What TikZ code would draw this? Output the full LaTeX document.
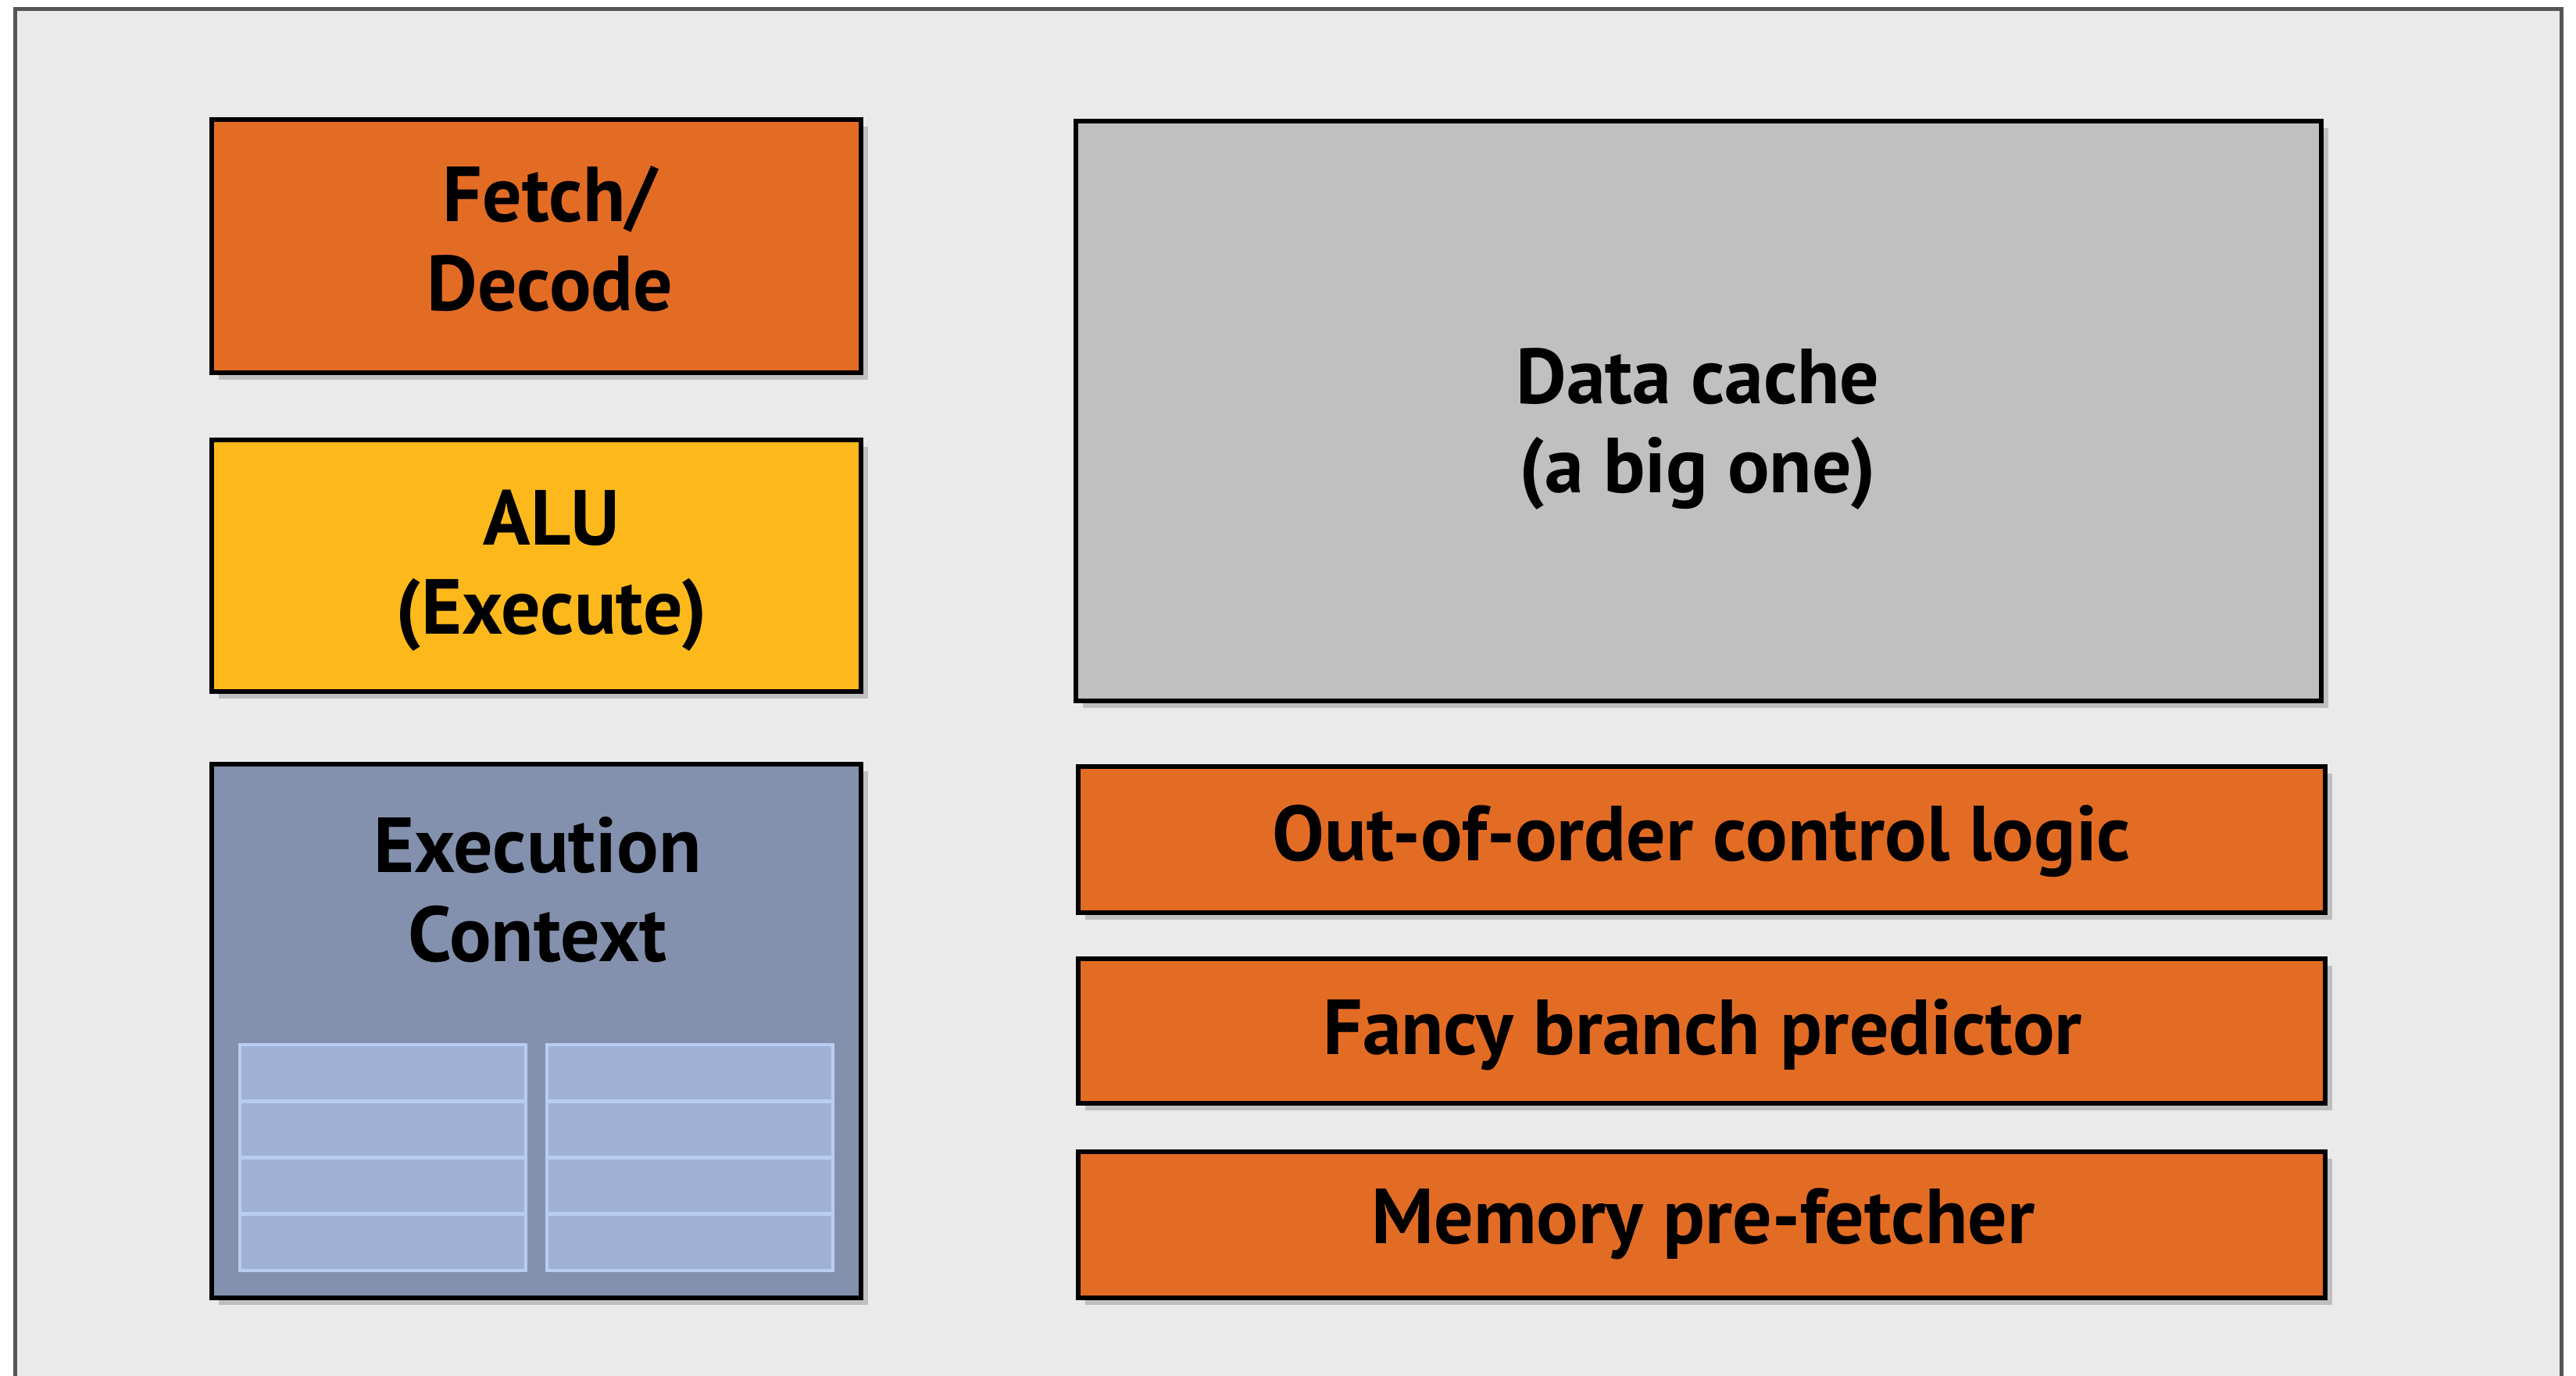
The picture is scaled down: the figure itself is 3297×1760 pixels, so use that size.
\documentclass[tikz,border=0pt]{standalone}
\usepackage{fontspec}
\setmainfont{PT Sans}
\usetikzlibrary{shadows}
\definecolor{bgc}{HTML}{EAEAEA}
\definecolor{framec}{HTML}{555555}
\definecolor{orangec}{HTML}{E36C24}
\definecolor{yellowc}{HTML}{FDB91C}
\definecolor{grayc}{HTML}{C0C0C0}
\definecolor{ctxc}{HTML}{8391AE}
\definecolor{cellc}{HTML}{9FB2D3}
\definecolor{celllinec}{HTML}{B9CCF2}
\begin{document}
\begin{tikzpicture}[x=0.01cm,y=-0.01cm,
  blk/.style={draw=black, line width=1.7pt,
    drop shadow={shadow xshift=2.5pt, shadow yshift=-2.5pt, opacity=0.18, fill=black}},
  lbl/.style={font=\bfseries\fontsize{28.4}{32.4}\selectfont, align=center, text=black, inner sep=0pt},
  cellbox/.style={fill=cellc, draw=celllinec, line width=1.4pt}]
\useasboundingbox (0,0) rectangle (3297,1760);
\clip (0,0) rectangle (3297,1760);
\fill[white] (0,0) rectangle (3297,1760);
\draw[draw=framec, line width=1.6pt, fill=bgc] (19.5,11.5) rectangle (3278.5,1900);

% left column
\path[blk, fill=orangec] (271,153) rectangle (1102,477);
\node[lbl] (fetch) at (704,306) {Fetch/\\Decode};

\path[blk, fill=yellowc] (271,563) rectangle (1102,885);
\node[lbl] (alu) at (706,730) {ALU\\(Execute)};

\path[blk, fill=ctxc] (271,978) rectangle (1102,1661);
\node[lbl] (ctx) at (688,1139) {Execution\\Context};
\foreach \xa/\xb in {307/673, 700/1066} {
  \foreach \r in {0,1,2,3} {
    \draw[cellbox] (\xa,1337+\r*72.25) rectangle (\xb,1337+\r*72.25+72.25);
  }
}

% right column
\path[blk, fill=grayc] (1377,155) rectangle (2971,897);
\node[lbl] (cache) at (2173,549) {Data cache\\(a big one)};

\path[blk, fill=orangec] (1380,981) rectangle (2976,1168);
\node[lbl] (ooo) at (2178,1076) {Out-of-order control logic};

\path[blk, fill=orangec] (1380,1227) rectangle (2976,1412);
\node[lbl] (branch) at (2179,1324) {Fancy branch predictor};

\path[blk, fill=orangec] (1380,1474) rectangle (2976,1661);
\node[lbl] (prefetch) at (2180,1566) {Memory pre-fetcher};
\end{tikzpicture}
\end{document}
